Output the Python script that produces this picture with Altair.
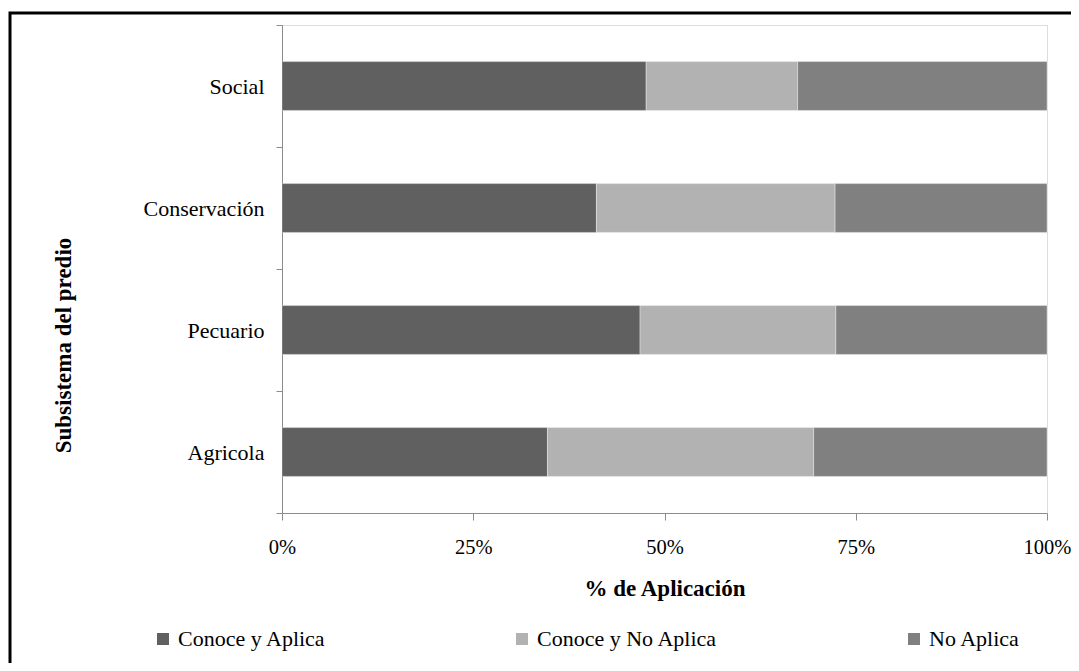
import altair as alt
import pandas as pd

categories = ["Social", "Conservación", "Pecuario", "Agricola"]
series = ["Conoce y Aplica", "Conoce y No Aplica", "No Aplica"]
conoce_aplica = [47.6, 41.1, 46.8, 34.7]
conoce_no_aplica = [19.8, 31.2, 25.6, 34.8]
no_aplica = [32.6, 27.7, 27.6, 30.5]
colors = ["#606060", "#b2b2b2", "#808080"]
x_ticks = [0, 0.25, 0.5, 0.75, 1.0]

rows = []
for i, c in enumerate(categories):
    for j, (s, vals) in enumerate(zip(series, [conoce_aplica, conoce_no_aplica, no_aplica])):
        rows.append({"Subsistema": c, "Serie": s, "Valor": vals[i], "orden": j})
df = pd.DataFrame(rows)

FONT = "Times New Roman, Liberation Serif, serif"

bars = alt.Chart(df).mark_bar(
    stroke="#ffffff", strokeWidth=1, strokeOpacity=0.35, height={"band": 0.4}
).encode(
    y=alt.Y("Subsistema:N", sort=categories,
            scale=alt.Scale(paddingInner=0, paddingOuter=0),
            axis=alt.Axis(title="Subsistema del predio", tickBand="extent",
                          labelFont=FONT, labelFontSize=22, labelColor="#000000",
                          labelPadding=12, tickSize=6, tickColor="#8c8c8c",
                          domainColor="#8c8c8c", grid=False,
                          titleFont=FONT, titleFontSize=23, titleFontWeight="bold",
                          titleColor="#000000", titleAngle=270, titleX=-219, titleY=320,
                          titleAlign="center", titleBaseline="middle")),
    x=alt.X("Valor:Q", stack="normalize",
            scale=alt.Scale(domain=[0, 1], nice=False),
            axis=alt.Axis(title="% de Aplicación", values=x_ticks, format=".0%",
                          labelFlush=False,
                          labelFont=FONT, labelFontSize=20.5, labelColor="#000000",
                          labelPadding=17, tickSize=7, tickColor="#8c8c8c",
                          domainColor="#8c8c8c", grid=False,
                          titleFont=FONT, titleFontSize=23, titleFontWeight="bold",
                          titleColor="#000000", titleY=75, titleBaseline="middle")),
    color=alt.Color("Serie:N", sort=series,
                    scale=alt.Scale(domain=series, range=colors),
                    legend=alt.Legend(title=None, orient="none", direction="horizontal",
                                      legendX=-130, legendY=603, columns=3,
                                      columnPadding=185, symbolType="square",
                                      symbolSize=144, symbolStrokeWidth=0,
                                      labelFont=FONT, labelFontSize=22, labelLimit=400,
                                      labelColor="#000000", labelOffset=4)),
    order=alt.Order("orden:Q"),
)

frame = alt.Chart(alt.Data(values=[{"a": 1}])).mark_rect(
    filled=False, stroke="#000000", strokeWidth=3
).encode(
    x=alt.value(-272), x2=alt.value(1000), y=alt.value(-12), y2=alt.value(900)
)

chart = alt.layer(frame, bars).properties(
    width=765, height=488,
    autosize=alt.AutoSizeParams(type="none"),
    padding={"left": 274, "top": 17, "right": 24, "bottom": 150},
).configure_view(stroke=None).configure(background="#ffffff")

chart.save("out.html", embed_options={"renderer": "svg", "actions": False})
